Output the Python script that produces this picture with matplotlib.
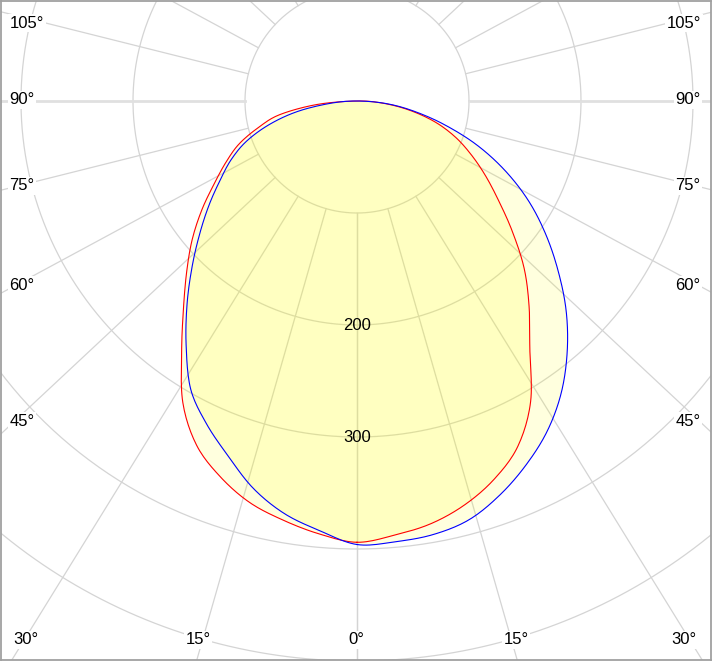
import numpy as np
import matplotlib.pyplot as plt

plt.rcParams['font.family'] = ['Liberation Sans', 'DejaVu Sans']

# gamma angles (deg) and luminous intensity (cd)
angles = [0, 5, 10, 15, 20, 25, 30, 35, 40, 45, 50, 55, 60, 65, 70, 75, 80, 85, 90]
c0 = [394, 389, 383, 373, 359, 340, 310, 269, 239, 211, 181, 154, 132, 112, 93, 72, 48, 24, 0]
c180 = [394, 388, 380, 371, 357, 339, 311, 273, 241, 215, 192, 169, 147, 129, 112, 91, 70, 36, 0]
c90 = [396, 395, 393, 387, 374, 358, 340, 318, 292, 264, 234, 205, 176, 145, 113, 80, 51, 26, 0]
c270 = [395, 385, 374, 358, 337, 318, 297, 266, 236, 208, 183, 161, 141, 124, 105, 81, 54, 24, 0]

rings = [100, 200, 300, 400, 500]
ring_labels = {200: '200', 300: '300'}

# pixel geometry of the reference
W, H = 716, 663
cx, cy = 357, 101
S = 1.12  # px per cd

fig = plt.figure(figsize=(W / 100, H / 100), dpi=100)
ax = fig.add_axes([1 / W, 3 / H, 710 / W, 659 / H])
ax.set_xlim((1 - cx) / S, (711 - cx) / S)
ax.set_ylim(-(660 - cy) / S, (cy - 1) / S)
ax.set_xticks([])
ax.set_yticks([])
for sp in ax.spines.values():
    sp.set_color('#a0a0a0')
    sp.set_linewidth(1.3)

grid = '#d4d4d4'
t = np.linspace(0, 2 * np.pi, 720)
for r in rings:
    ax.plot(r * np.cos(t), r * np.sin(t), color=grid, lw=0.9, zorder=1)

# radial lines every 15 degrees, starting at the first ring
k = 0.935
for g in range(0, 181, 15):
    gr = np.radians(g)
    phi = np.arctan2(np.sin(gr), k * np.cos(gr))
    for side in (-1, 1):
        dx, dy = side * np.sin(phi), -np.cos(phi)
        lw = 2.0 if g == 90 else 0.9
        col = '#e0e0e0' if g == 90 else grid
        ax.plot([100 * dx, 900 * dx], [100 * dy, 900 * dy], color=col, lw=lw, zorder=1)

a = np.radians(angles)


def smooth_closed(xs, ys, n=12):
    # closed Catmull-Rom spline through the points
    p = np.column_stack([xs, ys])
    m = len(p)
    out = []
    u = np.linspace(0, 1, n, endpoint=False)[:, None]
    for i in range(m):
        p0, p1, p2, p3 = p[i - 1], p[i], p[(i + 1) % m], p[(i + 2) % m]
        seg = 0.5 * ((2 * p1) + (-p0 + p2) * u + (2 * p0 - 5 * p1 + 4 * p2 - p3) * u ** 2
                     + (-p0 + 3 * p1 - 3 * p2 + p3) * u ** 3)
        out.append(seg)
    out = np.vstack(out + [p[:1]])
    return out[:, 0], out[:, 1]


def closed(right, left):
    right = np.array(right, float)
    left = np.array(left, float)
    # right half 0..90, then left half 90..0 (apex and nadir not repeated)
    xs = np.concatenate([right * np.sin(a), -(left * np.sin(a))[::-1][1:-1]])
    ys = np.concatenate([-right * np.cos(a), -(left * np.cos(a))[::-1][1:-1]])
    return smooth_closed(xs, ys)


xr, yr = closed(c0, c180)
xb, yb = closed(c90, c270)
ax.fill(xr, yr, color='#ffff00', alpha=0.13, lw=0, zorder=2)
ax.fill(xb, yb, color='#ffff00', alpha=0.13, lw=0, zorder=2)
ax.plot(xr, yr, color='#ff0000', lw=0.8, zorder=3)
ax.plot(xb, yb, color='#0000ff', lw=0.8, zorder=3)

for r, s in ring_labels.items():
    ax.text(0, -r, s, ha='center', va='center', fontsize=12, zorder=4)

# angle labels at the frame (pixel positions)
labels = [
    ('105°', 27, 23), ('90°', 22, 100), ('75°', 22, 186), ('60°', 22, 285), ('45°', 22, 421),
    ('105°', 684, 23), ('90°', 688, 100), ('75°', 688, 186), ('60°', 688, 285), ('45°', 688, 421),
    ('30°', 26, 640), ('15°', 198, 640), ('0°', 356, 640), ('15°', 516, 640), ('30°', 684, 640),
]
for s, px, py in labels:
    fig.text(px / W, 1 - py / H, s, ha='center', va='center', fontsize=12,
             bbox=dict(facecolor='white', edgecolor='none', pad=1.0), zorder=5)

fig.savefig('out.png', dpi=100)
